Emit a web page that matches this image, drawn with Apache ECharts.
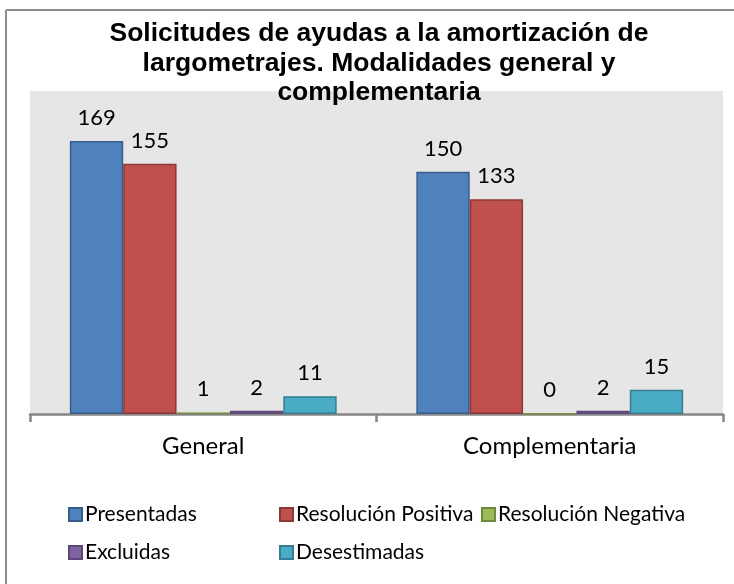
<!DOCTYPE html>
<html>
<head>
<meta charset="utf-8">
<script src="https://cdn.jsdelivr.net/npm/echarts@6/dist/echarts.min.js"></script>
<style>
  html, body { margin: 0; padding: 0; background: #fff; }
  #main { width: 734px; height: 584px; }
</style>
</head>
<body>
<div id="main"></div>
<script>
var categories = ['General', 'Complementaria'];
var presentadas = [169, 150];
var resPositiva = [155, 133];
var resNegativa = [1, 0];
var excluidas = [2, 2];
var desestimadas = [11, 15];

var seriesNames = ['Presentadas', 'Resolución Positiva', 'Resolución Negativa', 'Excluidas', 'Desestimadas'];
var seriesData = [presentadas, resPositiva, resNegativa, excluidas, desestimadas];
var fills = ['#4F81BD', '#C0504D', '#9BBB59', '#8064A2', '#4BACC6'];
var borders = ['#385D8A', '#8C3836', '#71893F', '#5C4776', '#357D91'];

// legend positions: two rows like the excel legend
var legendPos = [[63, 499], [274, 499], [476, 499], [63, 537], [274, 537]];

var bodyFont = 'Lato, "Open Sans", sans-serif';

function run() {
    var myChart = echarts.init(document.getElementById('main'));

    var series = seriesNames.map(function (name, i) {
        return {
            name: name,
            type: 'bar',
            data: seriesData[i],
            barGap: '0%',
            barCategoryGap: '23%',
            itemStyle: {
                color: fills[i],
                borderColor: borders[i],
                borderWidth: 1.5
            },
            label: {
                show: true,
                position: 'top',
                distance: 12,
                color: '#000',
                fontSize: 22,
                fontFamily: bodyFont
            }
        };
    });

    var legends = seriesNames.map(function (name, i) {
        return {
            data: [name],
            left: legendPos[i][0],
            top: legendPos[i][1],
            itemWidth: 13,
            itemHeight: 13,
            itemGap: 4,
            icon: 'rect',
            textStyle: {
                fontSize: 21,
                fontFamily: bodyFont,
                color: '#000',
                padding: [0, 0, 0, -2]
            }
        };
    });

    var option = {
        animation: false,
        backgroundColor: '#fff',
        title: {
            text: 'Solicitudes de ayudas a la amortización de\nlargometrajes. Modalidades general y\ncomplementaria',
            left: 374,
            top: 14,
            textAlign: 'center',
            textStyle: {
                fontFamily: '"Liberation Sans", Arial, sans-serif',
                fontWeight: 'bold',
                fontSize: 26.5,
                lineHeight: 29.5,
                color: '#000'
            }
        },
        legend: legends,
        grid: {
            left: 30,
            right: 11,
            top: 91,
            bottom: 170,
            show: true,
            backgroundColor: '#E6E6E6',
            borderWidth: 0
        },
        xAxis: {
            type: 'category',
            data: categories,
            axisLine: { lineStyle: { color: '#868686', width: 2.5 } },
            axisTick: { show: true, length: 8, lineStyle: { color: '#868686', width: 2.5 } },
            axisLabel: {
                margin: 20,
                color: '#000',
                fontSize: 24,
                fontFamily: bodyFont
            }
        },
        yAxis: {
            type: 'value',
            min: 0,
            max: 200,
            show: false,
            splitLine: { show: false }
        },
        graphic: [
            { type: 'line', shape: { x1: 6, y1: 10, x2: 6, y2: 584 }, style: { stroke: '#8C8C8C', lineWidth: 2 } },
            { type: 'line', shape: { x1: 6, y1: 10, x2: 734, y2: 10 }, style: { stroke: '#8C8C8C', lineWidth: 2 } }
        ],
        series: series
    };

    myChart.setOption(option);
}

run();
</script>
</body>
</html>
